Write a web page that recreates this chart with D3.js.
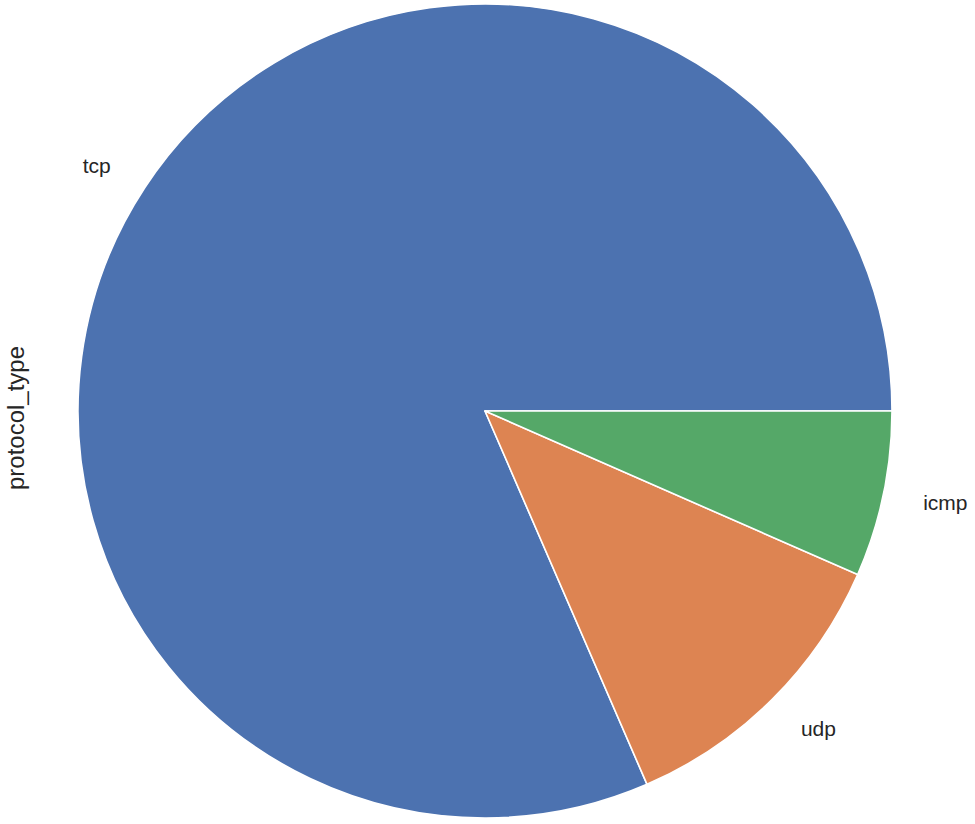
<!DOCTYPE html>
<html>
<head>
<meta charset="utf-8">
<script src="https://cdn.jsdelivr.net/npm/d3@7"></script>
<style>
  html, body { margin: 0; padding: 0; background: #fff; }
  svg { display: block; }
  text { font-family: "Liberation Sans", Arial, sans-serif; fill: #262626; }
</style>
</head>
<body>
<svg id="chart" width="975" height="824"></svg>
<script>
const categories = ["tcp", "udp", "icmp"];
const values = [102689, 14993, 8291];
const colors = ["#4C72B0", "#DD8452", "#55A868"];
const yLabel = "protocol_type";

const W = 975, H = 824;
const cx = 485, cy = 411, R = 407;
const svg = d3.select("#chart");

const data = categories.map((c, i) => ({ cat: c, value: values[i], color: colors[i] }));

// matplotlib-style: start at 3 o'clock, counterclockwise
const pie = d3.pie().sort(null).value(d => d.value)
  .startAngle(Math.PI / 2).endAngle(Math.PI / 2 - 2 * Math.PI);
const arcs = pie(data);
const arc = d3.arc().innerRadius(0).outerRadius(R);

const g = svg.append("g").attr("transform", `translate(${cx},${cy})`);
g.selectAll("path").data(arcs).join("path")
  .attr("d", arc)
  .attr("fill", d => d.data.color)
  .attr("stroke", "#fff")
  .attr("stroke-width", 1.6)
  .attr("stroke-linejoin", "round");

const labelR = R * 1.1;
g.selectAll("text.lbl").data(arcs).join("text")
  .attr("class", "lbl")
  .each(function(d) {
    const mid = (d.startAngle + d.endAngle) / 2;
    const x = labelR * Math.sin(mid);
    const y = -labelR * Math.cos(mid);
    d3.select(this)
      .attr("x", x).attr("y", y)
      .attr("text-anchor", x < 0 ? "end" : "start")
      .attr("dominant-baseline", "central");
  })
  .attr("font-size", 21)
  .text(d => d.data.cat);

svg.append("text")
  .attr("transform", `translate(24,418) rotate(-90)`)
  .attr("text-anchor", "middle")
  .attr("font-size", 24)
  .text(yLabel);
</script>
</body>
</html>
